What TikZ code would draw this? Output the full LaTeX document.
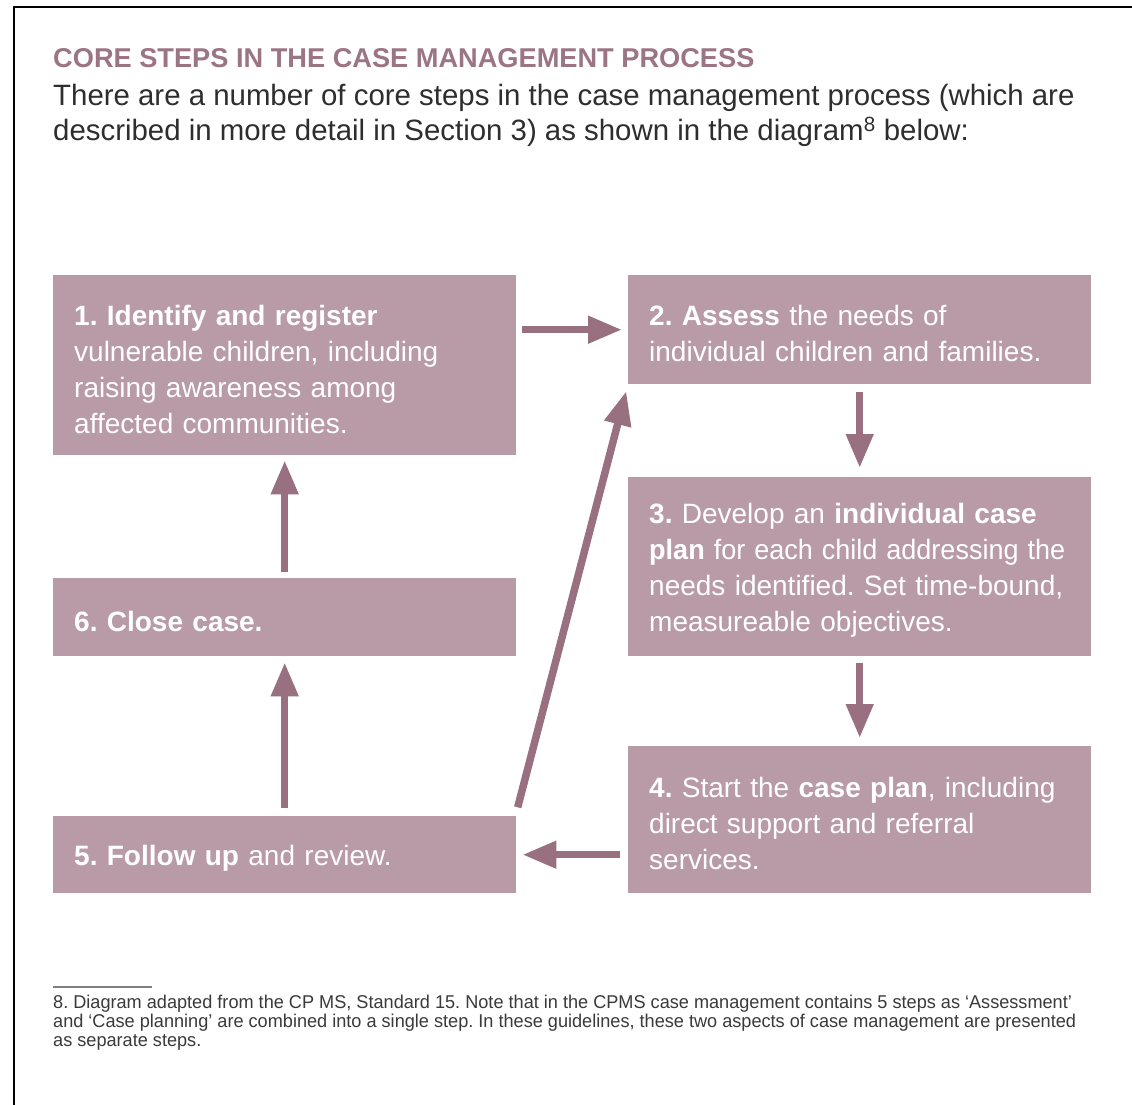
\documentclass[tikz,border=0pt]{standalone}
\usepackage{fontspec}
\setmainfont{Liberation Sans}
\newfontfamily\narrowfont[FakeStretch=0.98]{Liberation Sans}
\usetikzlibrary{arrows.meta}
\definecolor{boxc}{HTML}{B89BA7}
\definecolor{arrc}{HTML}{98707F}
\definecolor{titc}{HTML}{9C7585}
\definecolor{bodyc}{HTML}{2E2E2E}
\definecolor{fnc}{HTML}{3A3A3A}
\newcommand{\fl}{\rule{0pt}{28pt}}
\tikzset{
  stepbox/.style={fill=boxc, draw=none, text=white, align=left, inner xsep=21pt, inner ysep=0pt,
    anchor=north west, font=\fontsize{28}{36}\selectfont\frenchspacing, minimum width=463pt, text width=421pt},
  arr/.style={draw=arrc, line width=7.5pt, -{Triangle[length=34pt,width=26pt]}},
  txt/.style={anchor=base west, inner sep=0pt, font=\frenchspacing},
}
\begin{document}
\frenchspacing
\begin{tikzpicture}[x=1pt,y=-1pt]
\useasboundingbox (0,0) rectangle (1132,1105);
\fill[white] (0,0) rectangle (1132,1105);
\draw[line width=2pt, black] (14,1105) -- (14,7) -- (1132,7);

\node[txt, text=titc, font=\bfseries\fontsize{27.2}{30}\selectfont] (title) at (53,68) {CORE STEPS IN THE CASE MANAGEMENT PROCESS};
\node[txt, text=bodyc, font=\fontsize{29.4}{35}\selectfont] (intro1) at (53,106) {There are a number of core steps in the case management process (which are};
\node[txt, text=bodyc, font=\fontsize{29.4}{35}\selectfont] (intro2) at (53,141) {described in more detail in Section 3) as shown in the diagram\textsuperscript{8} below:};

\node[stepbox, minimum height=180pt] (b1) at (53,275) {\fl\mbox{\textbf{1. Identify and register}}\\\mbox{vulnerable children, including}\\\mbox{raising awareness among}\\\mbox{affected communities.}};
\node[stepbox, minimum height=109pt] (b2) at (628,275) {\fl\mbox{\textbf{2. Assess} the needs of}\\\mbox{individual children and families.}};
\node[stepbox, minimum height=179pt] (b3) at (628,477) {\fl\mbox{\textbf{3.} Develop an \textbf{individual case}}\\\scalebox{0.965}[1]{\textbf{plan} for each child addressing the}\\\mbox{needs identified. Set time-bound,}\\\mbox{measureable objectives.}};
\node[stepbox, minimum height=147pt] (b4) at (628,746) {\fl\mbox{\textbf{4.} Start the \textbf{case plan}, including}\\\mbox{direct support and referral}\\\mbox{services.}};
\node[stepbox, minimum height=77pt] (b5) at (53,816) {\fl\mbox{\textbf{5. Follow up} and review.}};
\node[stepbox, minimum height=78pt] (b6) at (53,578) {\fl\mbox{\textbf{6. Close case.}}};

\draw[arr, shorten <=6pt, shorten >=6pt] (b1.east |- b2.west) -- (b2.west);
\draw[arr, shorten <=8pt, shorten >=9pt] (b2.south) -- (b3.north);
\draw[arr, shorten <=7pt, shorten >=8pt] (b3.south) -- (b4.north);
\draw[arr, shorten <=8pt, shorten >=6pt] (b4.west |- b5.east) -- (b5.east);
\draw[arr, shorten <=8pt, shorten >=6pt] (b5.north) -- (b6.south);
\draw[arr, shorten <=6pt, shorten >=5pt] (b6.north) -- (b1.south);
\draw[arr, shorten <=9pt, shorten >=7pt] ([xshift=-1pt]b5.north east) -- (b2.south west);

\draw[line width=1.2pt, gray] (53,987) -- (152,987);
\node[txt, text=fnc, font=\narrowfont\fontsize{18.5}{19}\selectfont] (fn1) at (53,1008) {8. Diagram adapted from the CP MS, Standard 15. Note that in the CPMS case management contains 5 steps as ‘Assessment’};
\node[txt, text=fnc, font=\narrowfont\fontsize{18.5}{19}\selectfont] (fn2) at (53,1027) {and ‘Case planning’ are combined into a single step. In these guidelines, these two aspects of case management are presented};
\node[txt, text=fnc, font=\narrowfont\fontsize{18.5}{19}\selectfont] (fn3) at (53,1046) {as separate steps.};
\end{tikzpicture}
\end{document}
